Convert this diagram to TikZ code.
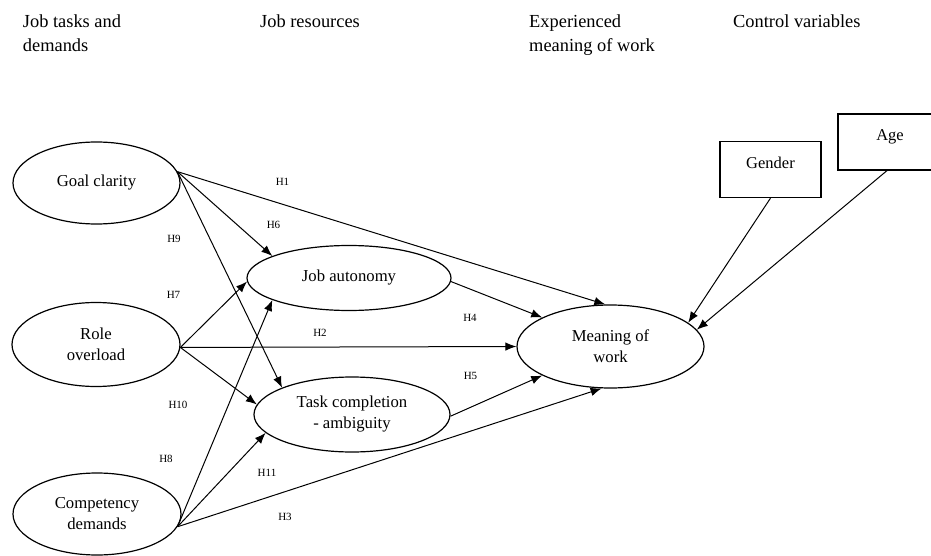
\documentclass[tikz,border=0pt]{standalone}
\usepackage{fontspec}
\setmainfont{Liberation Serif}
\usetikzlibrary{shapes.geometric,arrows.meta,calc}
\begin{document}
\begin{tikzpicture}[x=1pt,y=-1pt,
 latent/.style={ellipse,draw,line width=1.2pt,inner sep=0pt,align=center,font=\fontsize{16.7}{21}\selectfont},
 ctrl/.style={rectangle,draw,line width=1.2pt,inner sep=0pt,minimum width=101pt,minimum height=56pt,font=\fontsize{16.5}{20}\selectfont,text height=11pt,text depth=13pt},
 head/.style={anchor=north west,inner sep=0pt,align=left,font=\fontsize{18.4}{24}\selectfont},
 hyp/.style={inner sep=0pt,font=\fontsize{11}{13}\selectfont},
 hpath/.style={line width=1pt,-{Latex[length=11pt,width=8.5pt]}}]
\clip (0,0) rectangle (931,556);
\fill[white] (0,0) rectangle (931,556);

\node[head] (h1) at (22.7,14.4) {Job tasks and\\demands};
\node[head] (h2) at (260,14.4) {Job resources};
\node[head] (h3) at (529,14.4) {Experienced\\meaning of work};
\node[head] (h4) at (733,14.4) {Control variables};

\node[latent,minimum width=167pt,minimum height=82pt] (gc) at (96.5,183) {Goal clarity};
\node[latent,minimum width=168pt,minimum height=84pt] (ro) at (96,344.5) {Role\\overload};
\node[latent,minimum width=168pt,minimum height=82pt] (cd) at (97,514) {Competency\\demands};
\node[latent,minimum width=204pt,minimum height=65pt] (ja) at (349,278) {Job autonomy};
\node[latent,minimum width=196pt,minimum height=75pt] (tc) at (352,414.5) {Task completion\\- ambiguity};
\node[latent,minimum width=187pt,minimum height=83pt] (mw) at (610.5,346.5) {Meaning of\\work};
\node[ctrl] (gen) at (770.5,169.5) {Gender};
\node[ctrl,minimum width=104pt] (age) at (890,142) {Age};

\draw[hpath] (gc.8) -- (mw.97);
\draw[hpath] (gc.8) -- (ja.164);
\draw[hpath] (gc.8) -- (tc.159);
\draw[hpath] (ro.-2) -- (ja.182);
\draw[hpath] (ro.-2) -- (mw.180);
\draw[hpath] (ro.-2) -- (tc.174);
\draw[hpath] (cd.-9) -- (ja.196);
\draw[hpath] (cd.-9) -- (tc.192);
\draw[hpath] (cd.-9) -- (mw.258);
\draw[hpath] (ja.-2) -- (mw.157);
\draw[hpath] (tc.-1) -- (mw.203);
\draw[hpath] (gen.south) -- (mw.17);
\draw[hpath] ($(age.south)+(-3,0)$) -- (mw.11);

\node[hyp] (l1) at (282.5,181.5) {H1};
\node[hyp] (l6) at (273.5,225) {H6};
\node[hyp] (l9) at (174,239) {H9};
\node[hyp] (l7) at (173.5,295) {H7};
\node[hyp] (l2) at (320,333) {H2};
\node[hyp] (l4) at (470,318) {H4};
\node[hyp] (l5) at (470.5,376) {H5};
\node[hyp] (l10) at (178,405) {H10};
\node[hyp] (l8) at (166,459) {H8};
\node[hyp] (l11) at (267,473) {H11};
\node[hyp] (l3) at (285,517) {H3};
\end{tikzpicture}
\end{document}
